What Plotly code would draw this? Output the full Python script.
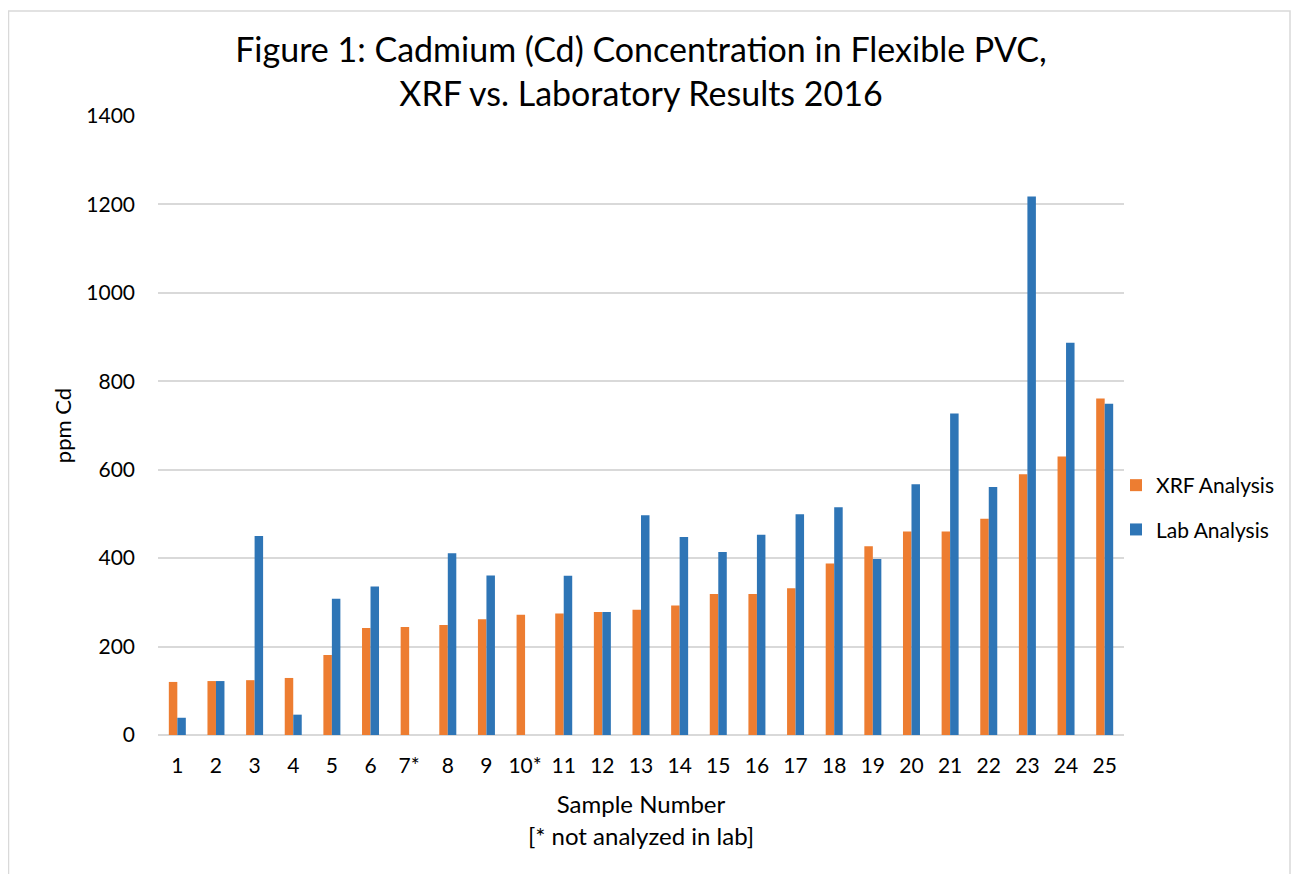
import plotly.graph_objects as go

samples = ["1", "2", "3", "4", "5", "6", "7*", "8", "9", "10*", "11", "12", "13",
           "14", "15", "16", "17", "18", "19", "20", "21", "22", "23", "24", "25"]
xrf = [120, 122, 124, 129, 181, 242, 244, 249, 262, 272, 275, 278, 283,
       293, 319, 319, 332, 388, 427, 460, 460, 489, 590, 630, 761]
lab = [39, 122, 450, 46, 308, 336, None, 411, 361, None, 360, 278, 497,
       448, 414, 453, 499, 515, 398, 567, 727, 561, 1218, 887, 749]

FONT = "Lato, 'Open Sans', sans-serif"
# page has an 8px body margin; figure coordinates = page coordinates - 8
W, H = 1283, 866
L, R, T, B = 150, 167, 108, 139
pw, ph = W - L - R, H - T - B

fig = go.Figure()
fig.add_trace(go.Bar(x=samples, y=xrf, name="XRF Analysis", marker_color="#ED7D31",
                     marker_line_width=0, legendgroup="a"))
fig.add_trace(go.Bar(x=samples, y=lab, name="Lab Analysis", marker_color="#2E75B6",
                     marker_line_width=0, legendgroup="b"))

fig.update_layout(
    width=W, height=H,
    margin=dict(l=L, r=R, t=T, b=B),
    paper_bgcolor="white", plot_bgcolor="white",
    font=dict(family=FONT, size=21, color="#000000"),
    barmode="group", bargap=0.56, bargroupgap=0,
    title=dict(text="Figure 1: Cadmium (Cd) Concentration in Flexible PVC,<br>XRF vs. Laboratory Results 2016",
               x=0.5, xanchor="center", xref="paper", yref="container",
               y=1 - 53.5 / H, yanchor="middle",
               font=dict(family=FONT, size=34, color="#000000")),
    xaxis=dict(title=dict(text="Sample Number<br>[* not analyzed in lab]", standoff=20,
                          font=dict(size=24)),
               tickfont=dict(size=21), showgrid=False, showline=False, ticks="",
               ticklabelstandoff=16),
    yaxis=dict(title=dict(text="ppm Cd", standoff=8, font=dict(size=22)),
               range=[0, 1400], dtick=200, tickfont=dict(size=21),
               showgrid=True, gridcolor="#D9D9D9", gridwidth=1.5,
               zeroline=True, zerolinecolor="#D9D9D9", zerolinewidth=1.5,
               showline=False, ticks="", ticklabelstandoff=22),
    legend=dict(x=(1108 - L) / pw, y=(H - B - 499.5) / ph, xanchor="left", yanchor="middle",
                font=dict(size=21), traceorder="grouped", tracegroupgap=14,
                bgcolor="rgba(0,0,0,0)"),
    shapes=[dict(type="rect", xref="paper", yref="paper",
                 x0=(0.5 - L) / pw, x1=(1282 - L) / pw,
                 y0=(-20 - B) / ph, y1=(H - 3 - B) / ph,
                 line=dict(color="#D9D9D9", width=1.5), fillcolor="rgba(0,0,0,0)",
                 layer="below")],
)

fig.write_html("out.html")
